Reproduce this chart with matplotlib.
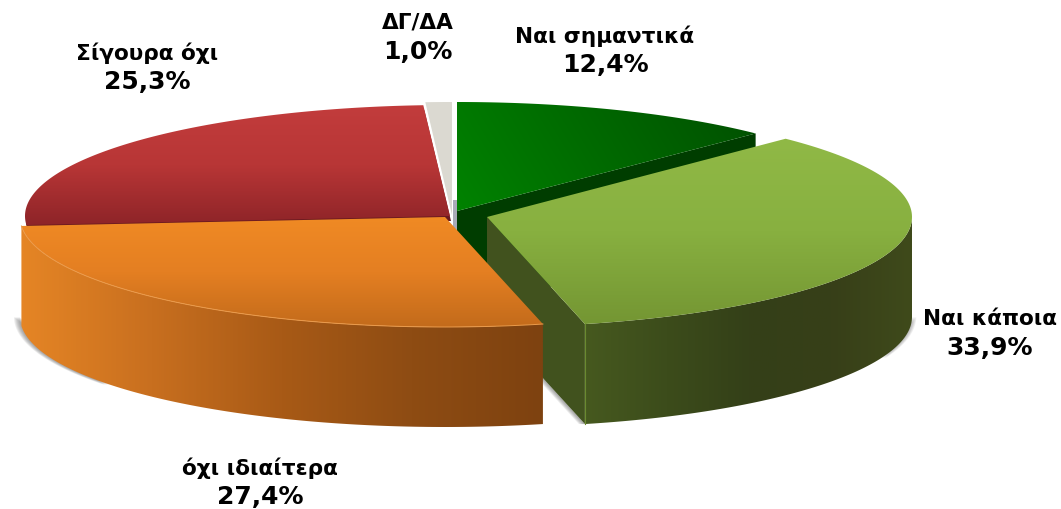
import numpy as np
from matplotlib import pyplot as plt
from matplotlib.colors import LinearSegmentedColormap
from matplotlib.patches import Polygon

# data
labels = ['Ναι σημαντικά', 'Ναι κάποια', 'όχι ιδιαίτερα', 'Σίγουρα όχι', 'ΔΓ/ΔΑ']
values = [12.4, 33.9, 27.4, 25.3, 1.0]

# slice centre once exploded, in pixels, and vertical radius
centres_x = [457, 487, 445, 450, 452]
centres_y = [212, 218, 218, 217, 216]
radii_y = [109, 110, 110, 111, 113]
radius_x = 425
depth = 100

label_x = [605, 990, 260, 147, 418]
name_y = [36, 319, 468, 53, 23]
pct_y = [65, 348, 497, 82, 52]


def arc(i, t0, t1, dy=0):
    t = np.radians(np.linspace(t0, t1, 120))
    x = centres_x[i] + radius_x * np.sin(t)
    y = centres_y[i] - radii_y[i] * np.cos(t) + dy
    return np.column_stack([x, y])


def grad_fill(pts, colors, direction=(0, 1), zorder=2):
    # fill polygon with a linear gradient along direction (pixels)
    x0, y0 = pts.min(axis=0)
    x1, y1 = pts.max(axis=0)
    xx, yy = np.meshgrid(np.linspace(x0, x1, 300), np.linspace(y0, y1, 200))
    g = xx * direction[0] + yy * direction[1]
    g = (g - g.min()) / (g.max() - g.min())
    cmap = LinearSegmentedColormap.from_list('g', colors)
    im = ax.imshow(g, cmap=cmap, extent=(x0, x1, y1, y0), aspect='auto',
                   zorder=zorder, interpolation='bilinear')
    clip = Polygon(pts, closed=True, transform=ax.transData)
    im.set_clip_path(clip)


fig = plt.figure(figsize=(10.61, 5.10), dpi=100)
ax = fig.add_axes([0, 0, 1, 1])

# slice angles from the values
total = sum(values)
ends = np.cumsum(values) / total * 360
starts = np.concatenate([[0], ends[:-1]])

apex = [np.array([centres_x[i], centres_y[i]], dtype=float) for i in range(5)]

# soft shadows at the lower left of the solid
corner = arc(1, ends[1], ends[1])[0]
for k in range(1, 7):
    left = arc(2, 232, 270, depth)
    ax.add_patch(Polygon(left + [-k, 0], closed=True, fc='#505050', ec='none', alpha=0.10, zorder=1))
    right = arc(1, 90, 112, depth)
    ax.add_patch(Polygon(right + [k * 0.7, 0], closed=True, fc='#505050', ec='none', alpha=0.07, zorder=1))
    lower = np.array([apex[1] + [0, depth], corner + [0, depth], corner + [-k, depth],
                      apex[1] + [-k, depth]])
    ax.add_patch(Polygon(lower, closed=True, fc='#505050', ec='none', alpha=0.10, zorder=1))

# red, with a dark seam below its cut edge
red = np.vstack([apex[3], arc(3, starts[3], ends[3])])
ax.add_patch(Polygon(red + [1, 5], closed=True, fc='#6b1a1f', ec='none', zorder=2))
grad_fill(red, ['#c23c3c', '#b83636', '#8e2428'], zorder=2)

# grey
grey = np.vstack([apex[4], arc(4, starts[4], ends[4])])
ax.add_patch(Polygon(grey, closed=True, fc='#dbd9d1', ec='none', zorder=2))
ax.fill_between([apex[4][0] + 1, apex[4][0] + 6], apex[4][1] - 15, apex[4][1] + 15,
                color='#a9abb8', lw=0, zorder=2)

# dark green: cut face then top
gc = arc(0, ends[0], ends[0])[0]
band = np.array([apex[0], gc, gc + [0, depth], apex[0] + [0, depth]])
ax.add_patch(Polygon(band, closed=True, fc='#003d00', ec='none', zorder=3))
green = np.vstack([apex[0], arc(0, starts[0], ends[0])])
grad_fill(green, ['#008200', '#005000'], direction=(1, -0.6), zorder=4)

# light green: cut face, rim, top
cut = np.array([apex[1], corner, corner + [0, depth], apex[1] + [0, depth]])
ax.add_patch(Polygon(cut, closed=True, fc='#41521e', ec='none', zorder=5))
rim = np.vstack([arc(1, 90, ends[1]), arc(1, 90, ends[1], depth)[::-1]])
grad_fill(rim, ['#3f4a1b', '#373f18', '#344018', '#3c4c1b', '#46591f'], direction=(-1, 0), zorder=5)
top = np.vstack([apex[1], arc(1, starts[1], ends[1])])
grad_fill(top, ['#90b946', '#88b040', '#749633'], zorder=6)
ax.plot([corner[0], corner[0]], [corner[1], corner[1] + depth], color='#6a8a30', lw=0.8, zorder=6)

# orange: rim, top
rim = np.vstack([arc(2, starts[2], ends[2]), arc(2, starts[2], ends[2], depth)[::-1]])
grad_fill(rim, ['#7e4210', '#8e4c13', '#a85a16', '#c86f1f', '#e58525'], direction=(-1, 0), zorder=7)
top = np.vstack([apex[2], arc(2, starts[2], ends[2])])
grad_fill(top, ['#f08a24', '#e47f22', '#c36b1b'], zorder=8)
edge = arc(2, starts[2], ends[2])
ax.plot(edge[:, 0], edge[:, 1], color='#eb9a4a', lw=0.7, zorder=9)

for i in range(5):
    pct = ('%.1f%%' % values[i]).replace('.', ',')
    ax.text(label_x[i], name_y[i], labels[i], ha='center', va='center', fontsize=15.6,
            fontweight='bold', family='DejaVu Sans', color='black', zorder=10)
    ax.text(label_x[i], pct_y[i], pct, ha='center', va='center', fontsize=18,
            fontweight='bold', family='DejaVu Sans', color='black', zorder=10)

ax.set_xlim(0, 1061)
ax.set_ylim(510, 0)
ax.axis('off')
fig.savefig('out.png', dpi=100)
